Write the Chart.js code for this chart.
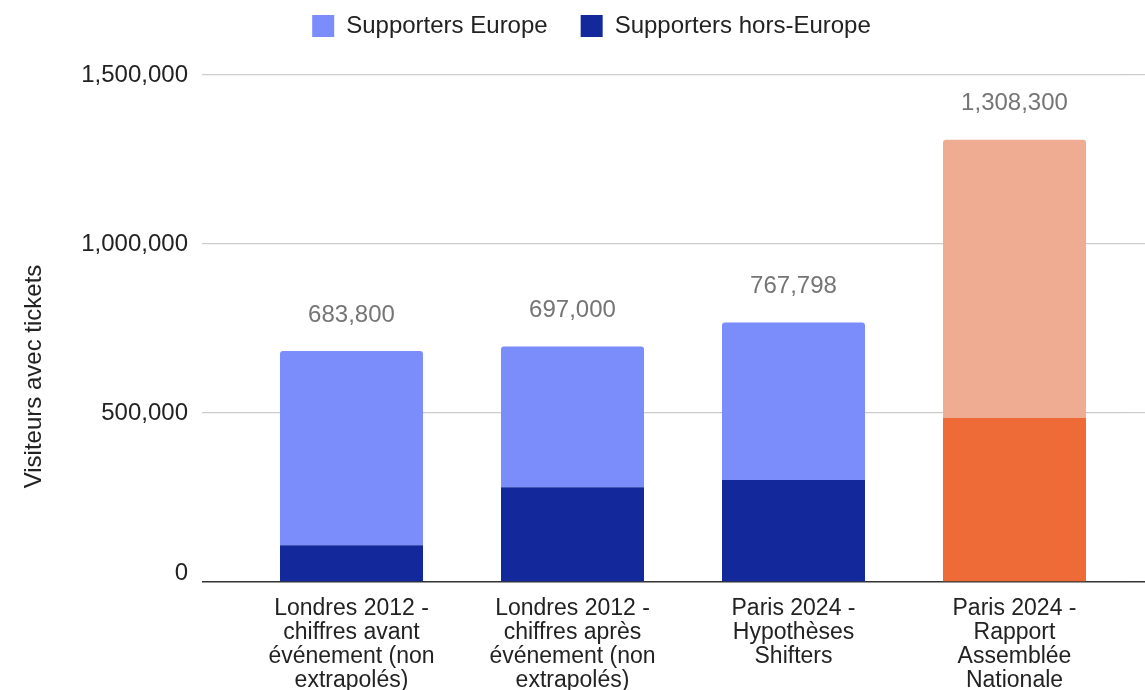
<!DOCTYPE html>
<html>
<head>
<meta charset="utf-8">
<script src="https://cdn.jsdelivr.net/npm/chart.js@4"></script>
<style>
  html, body { margin: 0; padding: 0; background: #fff; }
  #wrap { width: 1145px; height: 690px; }
</style>
</head>
<body>
<div id="wrap"><canvas id="visiteurs"></canvas></div>
<script>
// Données
const categories = [
    ['Londres 2012 -', 'chiffres avant', 'événement (non', 'extrapolés)'],
    ['Londres 2012 -', 'chiffres après', 'événement (non', 'extrapolés)'],
    ['Paris 2024 -', 'Hypothèses', 'Shifters'],
    ['Paris 2024 -', 'Rapport', 'Assemblée', 'Nationale']
];
const horsEurope = [109000, 280000, 302000, 485000];
const europe = [574800, 417000, 465798, 823300];
const yTicks = [0, 500000, 1000000, 1500000];
const axisTitle = 'Visiteurs avec tickets';

const FONT = "'Liberation Sans', Arial, sans-serif";
const fmt = v => v.toLocaleString('en-US');

// couleurs : bleu pour les 3 premiers, orange pour le rapport AN
const bleuFonce = '#13289b', bleuClair = '#7b8cfb';
const orangeFonce = '#ee6b37', orangeClair = '#f0ac92';

// Totaux au-dessus des barres + titre de l'axe Y (placé un peu plus bas que le centre)
const extras = {
    id: 'extras',
    beforeLayout(chart) {
        // hauteur fixe pour la légende, la zone du graphique commence plus bas
        if (chart.legend && !chart.legend._patched) {
            const fit = chart.legend.fit;
            chart.legend.fit = function () { fit.call(this); this.height = 94; };
            chart.legend._patched = true;
        }
    },
    afterDatasetsDraw(chart) {
        const ctx = chart.ctx;
        const top = chart.getDatasetMeta(1);
        ctx.save();
        ctx.font = '24px ' + FONT;
        ctx.fillStyle = '#757575';
        ctx.textAlign = 'center';
        ctx.textBaseline = 'middle';
        top.data.forEach((bar, i) => {
            const total = horsEurope[i] + europe[i];
            ctx.fillText(fmt(total), bar.x, bar.y - 36);
        });
        const area = chart.chartArea;
        ctx.translate(34, (area.top + area.bottom) / 2 + 48);
        ctx.rotate(-Math.PI / 2);
        ctx.fillStyle = '#222';
        ctx.fillText(axisTitle, 0, 0);
        ctx.restore();
    }
};

const isZero = c => c.tick && c.tick.value === 0;
const gridColor = c => isZero(c) ? '#333333' : '#cccccc';
const gridWidth = c => isZero(c) ? 1.5 : 1.2;

new Chart(document.getElementById('visiteurs'), {
    type: 'bar',
    data: {
        labels: categories,
        datasets: [
            {
                label: 'Supporters hors-Europe',
                data: horsEurope,
                backgroundColor: c => c.dataIndex === 3 ? orangeFonce : bleuFonce,
                borderWidth: 0
            },
            {
                label: 'Supporters Europe',
                data: europe,
                backgroundColor: c => c.dataIndex === 3 ? orangeClair : bleuClair,
                borderWidth: 0,
                borderRadius: { topLeft: 3, topRight: 3 },
                borderSkipped: 'start'
            }
        ]
    },
    options: {
        responsive: true,
        maintainAspectRatio: false,
        animation: false,
        barPercentage: 0.647,
        categoryPercentage: 1,
        layout: { padding: { top: -19, left: 38, right: 0, bottom: 0 } },
        plugins: {
            legend: {
                reverse: true,
                labels: {
                    font: { size: 24, family: FONT },
                    color: '#222',
                    boxWidth: 22,
                    boxHeight: 22,
                    padding: 33
                }
            },
            tooltip: { enabled: false }
        },
        scales: {
            x: {
                stacked: true,
                grid: { display: false },
                border: { display: false },
                afterFit: s => { s.height = 108; },
                ticks: {
                    font: { size: 23, family: FONT, lineHeight: 24 / 23 },
                    color: '#222',
                    padding: 7,
                    maxRotation: 0,
                    autoSkip: false
                }
            },
            y: {
                stacked: true,
                min: 0,
                max: 1500000,
                afterBuildTicks: s => { s.ticks = yTicks.map(v => ({ value: v })); },
                afterFit: s => { s.width = 203; },
                grid: { color: gridColor, lineWidth: gridWidth, tickLength: 39 },
                border: { display: false },
                ticks: {
                    font: { size: 24, family: FONT, lineHeight: 0.7 },
                    color: '#222',
                    padding: 14,
                    // le « 0 » est légèrement au-dessus de la ligne de base
                    callback: v => v === 0 ? ['0', ''] : fmt(v)
                }
            },
            y1: {
                position: 'right',
                min: 0,
                max: 1500000,
                afterBuildTicks: s => { s.ticks = yTicks.map(v => ({ value: v })); },
                afterFit: s => { s.width = 20; },
                grid: { drawOnChartArea: false, color: gridColor, lineWidth: gridWidth, tickLength: 20 },
                border: { display: false },
                ticks: { display: false }
            }
        }
    },
    plugins: [extras]
});
</script>
</body>
</html>
